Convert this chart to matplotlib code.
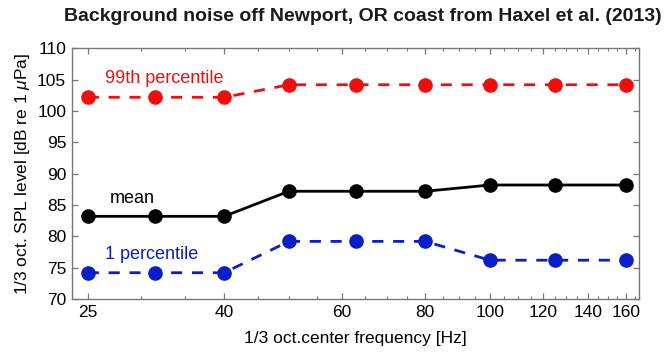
import matplotlib
matplotlib.use('Agg')
import matplotlib.pyplot as plt
from matplotlib.ticker import FixedLocator, NullFormatter

plt.rcParams['font.family'] = ['Liberation Sans', 'DejaVu Sans']
plt.rcParams['mathtext.fontset'] = 'custom'
plt.rcParams['mathtext.rm'] = 'Liberation Sans'
plt.rcParams['mathtext.it'] = 'Liberation Sans:italic'

# 1/3 octave centre frequencies [Hz]
freq = [25, 31.5, 40, 50, 63, 80, 100, 125, 160]

# levels in dB re 1 uPa
p99 = [102.2, 102.2, 102.2, 104.2, 104.2, 104.2, 104.2, 104.2, 104.2]
mean = [83.2, 83.2, 83.2, 87.2, 87.2, 87.2, 88.2, 88.2, 88.2]
p1 = [74.2, 74.2, 74.2, 79.2, 79.2, 79.2, 76.2, 76.2, 76.2]

xticks = [25, 40, 60, 80, 100, 120, 140, 160]
yticks = [70, 75, 80, 85, 90, 95, 100, 105, 110]

red = '#f20d0d'
blue = '#0a1ec8'

fig = plt.figure(figsize=(6.71, 3.56), dpi=100)
ax = fig.add_axes([0.107, 0.160, 0.845, 0.704])

ax.plot(freq, p99, '--', color=red, lw=2.0, dashes=(4, 3.5),
        marker='o', ms=9.5, mec=red, mfc=red)
ax.plot(freq, mean, '-', color='black', lw=2.0,
        marker='o', ms=9.5, mec='black', mfc='black')
ax.plot(freq, p1, '--', color=blue, lw=2.0, dashes=(4, 3.5),
        marker='o', ms=9.5, mec=blue, mfc=blue)

ax.text(26.5, 105.15, '99th percentile', color=red, fontsize=13, va='center')
ax.text(27.0, 86.0, 'mean', color='black', fontsize=13, va='center')
ax.text(26.5, 77.1, '1 percentile', color=blue, fontsize=13, va='center')

ax.set_xscale('log')
ax.set_xlim(23.66, 167)
ax.set_ylim(70, 110)
ax.xaxis.set_major_locator(FixedLocator(xticks))
ax.xaxis.set_minor_locator(FixedLocator([f for f in range(25, 170, 5) if f not in xticks]))
ax.xaxis.set_minor_formatter(NullFormatter())
ax.set_xticklabels([str(t) for t in xticks])
ax.set_yticks(yticks)

ax.tick_params(which='both', direction='in', top=True, right=True,
               color='#777777', labelsize=12.5, pad=4)
ax.tick_params(which='major', length=4, width=0.9)
ax.tick_params(which='minor', length=2, width=0.8)
for s in ax.spines.values():
    s.set_color('#777777')
    s.set_linewidth(1.0)

ax.set_xlabel('1/3 oct.center frequency [Hz]', fontsize=12.5, labelpad=8)
ax.set_ylabel(r'1/3 oct. SPL level [dB re 1 $\mu$Pa]', fontsize=12.5, labelpad=4)
fig.text(0.54, 0.955, 'Background noise off Newport, OR coast from Haxel et al. (2013)',
         fontsize=14, fontweight='bold', ha='center', va='center', color='#1a1a1a')

fig.savefig('out.png', dpi=100)
